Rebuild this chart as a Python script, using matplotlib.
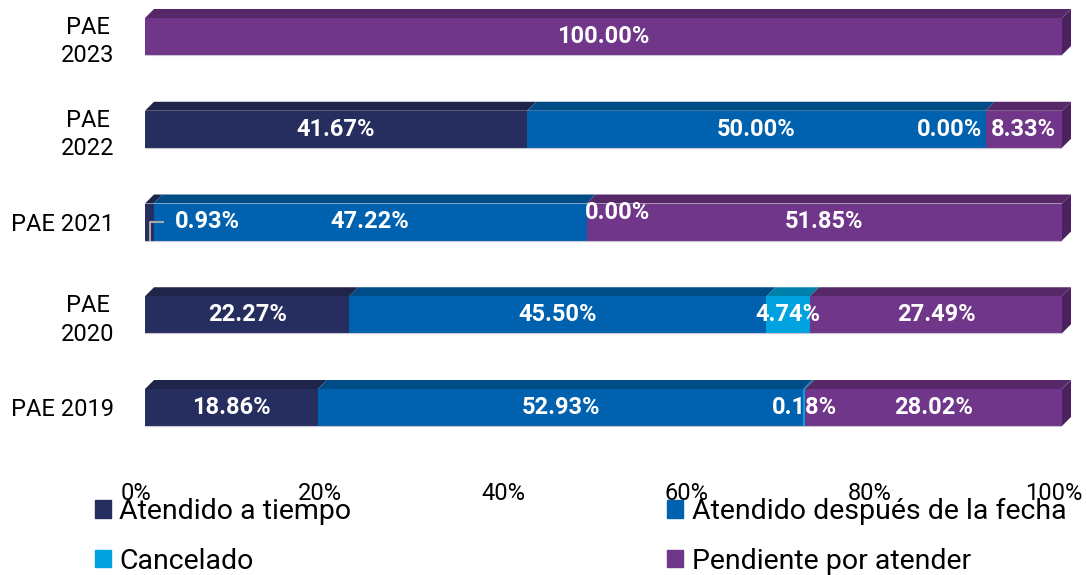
import matplotlib.pyplot as plt
from matplotlib.patches import Polygon, Patch
from matplotlib.transforms import ScaledTranslation
import numpy as np

plt.rcParams['font.family'] = ['Roboto', 'DejaVu Sans']

years = ['PAE\n2023', 'PAE\n2022', 'PAE 2021', 'PAE\n2020', 'PAE 2019']
a_tiempo = [0.0, 41.67, 0.93, 22.27, 18.86]
despues = [0.0, 50.00, 47.22, 45.50, 52.93]
cancelado = [0.0, 0.00, 0.00, 4.74, 0.18]
pendiente = [100.0, 8.33, 51.85, 27.49, 28.02]

series = [a_tiempo, despues, cancelado, pendiente]
names = ['Atendido a tiempo', 'Atendido después de la fecha', 'Cancelado', 'Pendiente por atender']
front = ['#262D5F', '#0062AE', '#00A3E0', '#6F3689']
top_c = ['#1F2449', '#004C86', '#0081AC', '#562868']
side_c = '#4B2160'

fig = plt.figure(figsize=(10.87, 5.75), dpi=100)
ax = fig.add_axes([145 / 1087, (575 - 470) / 575, (1062 - 145) / 1087, 470 / 575])

px_x = (1062 - 145) / 100.0      # pixels per percent
px_y = 92.75                     # pixels per category
h = 37 / px_y
dx = 9 / px_x
dy = 9 / px_y

ypos = np.arange(len(years))
left = np.zeros(len(years))
for k, vals in enumerate(series):
    vals = np.array(vals)
    ax.barh(ypos, vals, left=left, height=h, color=front[k], zorder=2)
    for i in range(len(years)):
        if vals[i] <= 0:
            continue
        x0, x1 = left[i], left[i] + vals[i]
        t = ypos[i] - h / 2
        ax.add_patch(Polygon([(x0, t), (x1, t), (x1 + dx, t - dy), (x0 + dx, t - dy)],
                             closed=True, color=top_c[k], lw=0, clip_on=False, zorder=1))
    left = left + vals

for i in range(len(years)):
    t = ypos[i] - h / 2
    b = ypos[i] + h / 2
    ax.add_patch(Polygon([(100, t), (100 + dx, t - dy), (100 + dx, b - dy), (100, b)],
                         closed=True, color=side_c, lw=0, clip_on=False, zorder=1))
    ax.plot([0, 100], [b, b], color='#c9c3d3', lw=0.8, zorder=3, solid_capstyle='butt')

# value labels
lab = dict(color='white', fontsize=17, fontweight='bold', va='center', zorder=5)
left = np.zeros(len(years))
for k, vals in enumerate(series):
    for i in range(len(years)):
        v = vals[i]
        if years[i] == 'PAE\n2023' and k < 3:
            continue
        txt = f'{v:.2f}%'
        if i == 2 and k == 0:
            ax.text(6.76, ypos[i], txt, ha='center', **lab)
            ax.plot([0.55, 0.55, 1.95], [ypos[i] + 0.19, ypos[i], ypos[i]],
                    color='#a8a8a8', lw=1.5, zorder=5, clip_on=False)
        elif i == 2 and k == 2:
            ax.text(left[i] - 0.2, ypos[i] - 0.1, txt, ha='left', **lab)
        elif i == 1 and k == 2:
            ax.text(left[i] - 0.4, ypos[i], txt, ha='right', **lab)
        else:
            ax.text(left[i] + v / 2, ypos[i], txt, ha='center', **lab)
    left = left + np.array(vals)

ax.set_xlim(0, 100)
ax.set_ylim(4 + 62.5 / px_y, -36.5 / px_y)
ax.set_yticks(ypos)
ax.set_yticklabels(years, fontsize=17, multialignment='center', linespacing=1.3)
ax.set_xticks([0, 20, 40, 60, 80, 100])
ax.set_xticklabels(['0%', '20%', '40%', '60%', '80%', '100%'], fontsize=17)
ax.tick_params(axis='y', length=0, pad=22)
ax.tick_params(axis='x', length=0, pad=9)
for t in ax.get_xticklabels():
    t.set_transform(t.get_transform() + ScaledTranslation(-8.5 / 100, 0, fig.dpi_scale_trans))
for s in ax.spines.values():
    s.set_visible(False)

handles = [Patch(color=front[0]), Patch(color=front[2]), Patch(color=front[1]), Patch(color=front[3])]
labels = [names[0], names[2], names[1], names[3]]
fig.legend(handles, labels, ncol=2, loc='upper left', bbox_to_anchor=(95 / 1087, 1 - 498 / 575),
           frameon=False, fontsize=20.5, handlelength=0.55, handleheight=0.55, handletextpad=0.3,
           columnspacing=11.1, labelspacing=0.8, borderpad=0, borderaxespad=0)

fig.savefig('out.png', dpi=100)
